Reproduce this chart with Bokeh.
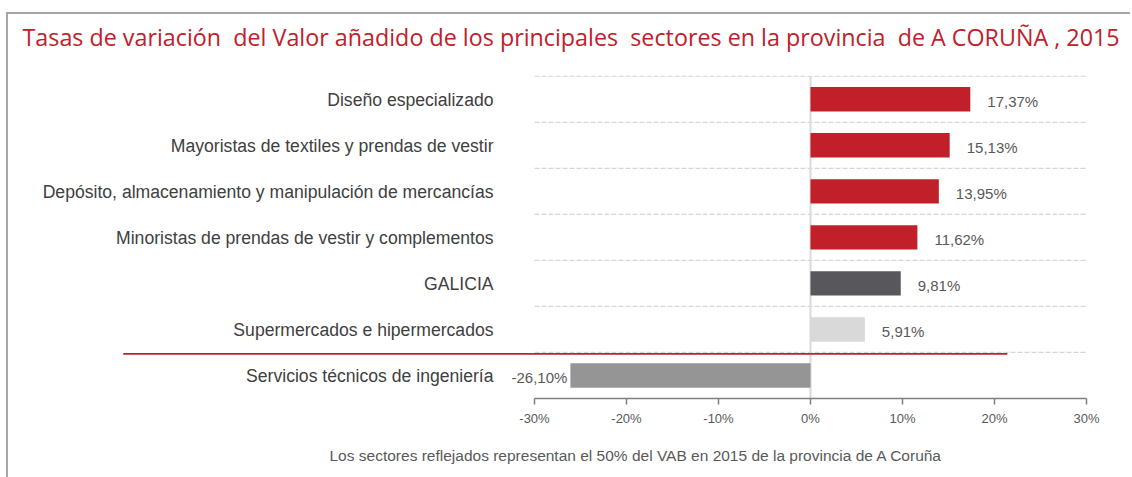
from bokeh.plotting import figure
from bokeh.models import Range1d, FixedTicker, PrintfTickFormatter, Title
from bokeh.core.properties import value
from bokeh.embed import file_html
from bokeh.resources import INLINE

# ---------------- data ----------------
categories = [
    "Diseño especializado",
    "Mayoristas de textiles y prendas de vestir",
    "Depósito, almacenamiento y manipulación de mercancías",
    "Minoristas de prendas de vestir y complementos",
    "GALICIA",
    "Supermercados e hipermercados",
    "Servicios técnicos de ingeniería",
]
values = [17.37, 15.13, 13.95, 11.62, 9.81, 5.91, -26.10]
bar_colors = ["#C1202A", "#C1202A", "#C1202A", "#C1202A", "#58575C", "#D9D9D9", "#959595"]
x_ticks = [-30, -20, -10, 0, 10, 20, 30]

title_text = ("Tasas de variación\u00a0 del Valor añadido de los principales\u00a0 sectores "
              "en la provincia\u00a0 de A CORUÑA , 2015")
footer_text = "Los sectores reflejados representan el 50% del VAB en 2015 de la provincia de A Coruña"

# ---------------- layout constants ----------------
px_per_unit = 9.2
px_per_row = 46
frame_w = 1112
frame_h = 384
left_pad_px = 516           # frame left edge to the first tick
header_px = 61.7            # frame top to the first grid line
x_start = x_ticks[0] - left_pad_px / px_per_unit
x_end = x_start + frame_w / px_per_unit
separator_start, separator_end, separator_y = -74.7, 21.4, 0.97

n = len(categories)
y_top = n + header_px / px_per_row
centers = [n - i - 0.5 for i in range(n)]
boundaries = list(range(1, n + 1))

p = figure(
    frame_width=frame_w, frame_height=frame_h,
    min_border_left=10, min_border_right=0, min_border_top=0, min_border_bottom=76,
    x_range=Range1d(x_start, x_end), y_range=Range1d(0, y_top),
    y_axis_location=None, toolbar_location=None, output_backend="svg",
)
p.outline_line_color = None
p.background_fill_color = "white"
p.border_fill_color = "white"
p.styles = {"margin-top": "12px", "margin-left": "6px",
            "border-top": "2px solid #a6a6a6", "border-left": "2px solid #a6a6a6"}

p.xgrid.visible = False
p.ygrid.visible = False

# dashed grid lines at category boundaries, over the axis span
p.segment(x0=[x_ticks[0]] * n, y0=boundaries, x1=[x_ticks[-1]] * n, y1=boundaries,
          line_color="#d6d6d6", line_dash="5 2", line_width=1.2)

# x axis
ax = p.xaxis[0]
ax.ticker = FixedTicker(ticks=x_ticks)
ax.formatter = PrintfTickFormatter(format="%d%%")
ax.bounds = (x_ticks[0], x_ticks[-1])
ax.axis_line_color = "#808080"
ax.axis_line_width = 1.5
ax.major_tick_line_color = "#808080"
ax.major_tick_line_width = 1.5
ax.major_tick_in = 0
ax.major_tick_out = 6
ax.minor_tick_line_color = None
ax.major_label_standoff = 6
ax.major_label_text_font = "Liberation Sans"
ax.major_label_text_font_size = "13px"
ax.major_label_text_color = "#595959"

# zero line
p.segment(x0=[0], y0=[0], x1=[0], y1=[n], line_color="#d9d9d9", line_width=2)

# bars
p.hbar(y=centers, right=values, left=0, height=0.53, fill_color=bar_colors, line_color=None)

# red separator
p.segment(x0=[separator_start], y0=[separator_y], x1=[separator_end], y1=[separator_y],
          line_color="#C1202A", line_width=1.6)

# category labels
p.text(x=[x_ticks[0]] * n, y=centers, text=categories, x_offset=-41, y_offset=1,
       text_align="right", text_baseline="middle",
       text_font=value("Liberation Sans"), text_font_size="17.6px", text_color="#404040")

# value labels
fmt = lambda v: f"{v:.2f}".replace(".", ",") + "%"
pos = [(v, c) for v, c in zip(values, centers) if v >= 0]
neg = [(v, c) for v, c in zip(values, centers) if v < 0]
p.text(x=[v for v, _ in pos], y=[c for _, c in pos], text=[fmt(v) for v, _ in pos],
       x_offset=17, y_offset=2, text_align="left", text_baseline="middle",
       text_font=value("Liberation Sans"), text_font_size="15px", text_color="#595959")
p.text(x=[v for v, _ in neg], y=[c for _, c in neg], text=[fmt(v) for v, _ in neg],
       x_offset=-3, y_offset=2, text_align="right", text_baseline="middle",
       text_font=value("Liberation Sans"), text_font_size="15px", text_color="#595959")

# chart title (inside the top band of the frame)
p.text(x=[x_start], y=[y_top], text=[title_text], x_offset=4, y_offset=22,
       text_align="left", text_baseline="middle",
       text_font=value("Open Sans"), text_font_size="23.3px", text_color="#C1202A")

# footer note
p.add_layout(Title(text=footer_text, align="left", offset=311, text_font="Liberation Sans",
                   text_font_size="15.5px", text_color="#595959", text_font_style="normal",
                   standoff=32), "below")

open("out.html", "w").write(file_html(p, INLINE))
